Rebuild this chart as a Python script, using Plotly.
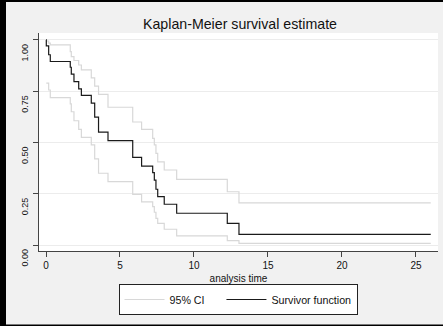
import plotly.graph_objects as go

# Kaplan-Meier step data
times = [0.0, 0.02, 0.18, 0.29, 1.64, 1.71, 1.89, 2.21, 2.39, 3.06, 3.29, 3.55,
         4.19, 5.86, 6.46, 7.21, 7.32, 7.43, 7.55, 7.99, 8.83, 12.25, 13.04]
surv = [1.0, 0.971, 0.928, 0.895, 0.867, 0.833, 0.797, 0.762, 0.730, 0.692, 0.624, 0.551,
        0.509, 0.428, 0.385, 0.353, 0.317, 0.272, 0.236, 0.199, 0.155, 0.106, 0.052]
ci_times = times[1:]
upper = [0.995, 0.985, 0.976, 0.943, 0.919, 0.900, 0.878, 0.854, 0.815, 0.775, 0.735,
         0.672, 0.600, 0.564, 0.520, 0.488, 0.447, 0.406, 0.366, 0.320, 0.260, 0.206]
lower = [0.790, 0.756, 0.719, 0.688, 0.650, 0.606, 0.564, 0.525, 0.488, 0.420, 0.350,
         0.309, 0.247, 0.211, 0.187, 0.160, 0.130, 0.106, 0.077, 0.045, 0.022, 0.008]
t_end = 26.0

x_ticks = [0, 5, 10, 15, 20, 25]
y_ticks = [0.0, 0.25, 0.5, 0.75, 1.0]
y_ticktext = ["0.00", "0.25", "0.50", "0.75", "1.00"]

FONT = "Liberation Sans, Arial, sans-serif"
CI_COLOR = "#d8d8d8"
NB = "\u00a0"

fig = go.Figure()
fig.add_trace(go.Scatter(x=ci_times + [t_end], y=upper + [upper[-1]], mode="lines",
                         line=dict(color=CI_COLOR, width=1.2, shape="hv"),
                         name="95% CI" + NB * 4, showlegend=True))
fig.add_trace(go.Scatter(x=ci_times + [t_end], y=lower + [lower[-1]], mode="lines",
                         line=dict(color=CI_COLOR, width=1.2, shape="hv"),
                         name="95% CI", showlegend=False))
fig.add_trace(go.Scatter(x=times + [t_end], y=surv + [surv[-1]], mode="lines",
                         line=dict(color="#1a1a1a", width=1.2, shape="hv"),
                         name="Survivor function"))

W, H = 443, 326
ml, mr, mt, mb = 39, 5, 33, 75
pw, ph = W - ml - mr, H - mt - mb

def px(xp):
    return (xp - ml) / pw

def py(yp):
    return (H - mb - yp) / ph

shapes = [
    dict(type="rect", xref="paper", yref="paper", x0=px(0), x1=px(6), y0=py(0), y1=py(H),
         fillcolor="black", line=dict(width=0)),
    dict(type="rect", xref="paper", yref="paper", x0=px(0), x1=px(W), y0=py(0), y1=py(2),
         fillcolor="black", line=dict(width=0)),
    dict(type="rect", xref="paper", yref="paper", x0=px(0), x1=px(W), y0=py(324.5), y1=py(H),
         fillcolor="black", line=dict(width=0)),
]

fig.update_layout(
    width=W, height=H,
    margin=dict(l=ml, r=mr, t=mt, b=mb, pad=0, autoexpand=False),
    paper_bgcolor="#f1f1f1",
    plot_bgcolor="white",
    font=dict(family=FONT, size=10, color="#111"),
    title=dict(text="Kaplan-Meier survival estimate", xref="container", x=240 / W,
               xanchor="center", y=1 - 24.5 / H, yanchor="middle", automargin=False,
               font=dict(family=FONT, size=14.2, color="#111")),
    xaxis=dict(range=[-0.473, 26.49], tickvals=x_ticks, ticks="outside", ticklen=5,
               tickcolor="#444", showline=True, linecolor="#444", linewidth=1,
               showgrid=False, zeroline=False, tickfont=dict(size=10), automargin=False,
               title=dict(text="analysis time", font=dict(size=10), standoff=4)),
    yaxis=dict(range=[-0.029, 1.034], tickvals=y_ticks, ticktext=y_ticktext,
               ticks="outside", ticklen=5, tickcolor="#444", showline=True,
               linecolor="#444", linewidth=1, showgrid=True, gridcolor="#ececec",
               gridwidth=1, zeroline=False, tickangle=-90, tickfont=dict(size=9),
               ticklabelshift=14, ticklabelstandoff=1, automargin=False),
    legend=dict(orientation="h", x=px(238), xanchor="center",
                y=py(284), yanchor="top",
                bgcolor="white", bordercolor="#222", borderwidth=1,
                font=dict(size=10.7), itemwidth=40),
    shapes=shapes,
)

fig.write_html("out.html", config={"displayModeBar": False},
               post_script="document.body.style.margin='0';document.body.style.padding='0';")
